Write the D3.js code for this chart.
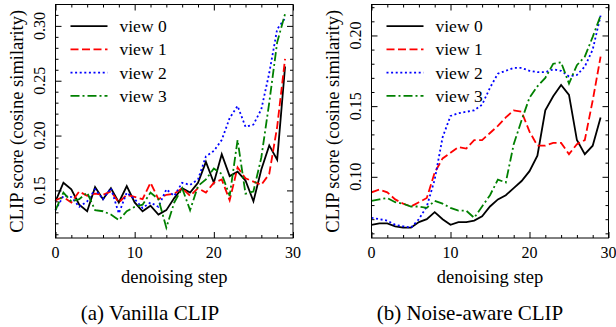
<!DOCTYPE html>
<html>
<head>
<meta charset="utf-8">
<script src="https://cdn.jsdelivr.net/npm/d3@7"></script>
<style>
  body { margin: 0; background: #fff; }
  svg text { font-family: "Liberation Serif", "Times New Roman", serif; fill: #000; }
</style>
</head>
<body>
<svg id="chart" width="616" height="327"></svg>
<script>
// denoising steps (x values)
const steps = [0,1,2,3,4,5,6,7,8,9,10,11,12,13,14,15,16,17,18,19,20,21,22,23,24,25,26,27,28,29]
const viewNames = ['view 0', 'view 1', 'view 2', 'view 3']

// (a) vanilla CLIP
const vanillaView0 = [0.140,0.157,0.151,0.137,0.131,0.153,0.142,0.152,0.139,0.154,0.139,0.131,0.136,0.128,0.132,0.143,0.152,0.148,0.157,0.176,0.157,0.183,0.163,0.167,0.159,0.140,0.169,0.191,0.178,0.263]
const vanillaView1 = [0.141,0.144,0.139,0.149,0.145,0.147,0.146,0.149,0.139,0.146,0.144,0.142,0.157,0.142,0.146,0.147,0.152,0.145,0.152,0.148,0.157,0.160,0.141,0.171,0.161,0.158,0.155,0.165,0.208,0.270]
const vanillaView2 = [0.132,0.145,0.144,0.135,0.140,0.151,0.142,0.152,0.129,0.148,0.142,0.134,0.139,0.135,0.151,0.145,0.157,0.155,0.160,0.181,0.186,0.196,0.216,0.227,0.208,0.210,0.224,0.257,0.297,0.307]
const vanillaView3 = [0.132,0.148,0.140,0.142,0.148,0.132,0.131,0.128,0.123,0.131,0.135,0.137,0.148,0.142,0.116,0.139,0.152,0.132,0.154,0.160,0.170,0.165,0.145,0.196,0.147,0.149,0.180,0.230,0.285,0.311]

// (b) noise-aware CLIP
const noiseView0 = [0.066,0.067,0.067,0.065,0.064,0.064,0.068,0.070,0.075,0.070,0.066,0.068,0.068,0.069,0.072,0.079,0.084,0.087,0.092,0.097,0.104,0.115,0.147,0.157,0.165,0.158,0.126,0.116,0.122,0.142]
const noiseView1 = [0.089,0.091,0.089,0.084,0.081,0.079,0.082,0.085,0.103,0.113,0.117,0.121,0.120,0.126,0.126,0.131,0.136,0.142,0.147,0.146,0.132,0.122,0.122,0.124,0.124,0.116,0.123,0.126,0.154,0.185]
const noiseView2 = [0.071,0.070,0.069,0.066,0.065,0.064,0.070,0.079,0.098,0.128,0.143,0.145,0.146,0.147,0.151,0.163,0.173,0.175,0.177,0.177,0.175,0.174,0.174,0.176,0.175,0.171,0.172,0.178,0.190,0.214]
const noiseView3 = [0.083,0.084,0.085,0.082,0.081,0.079,0.079,0.078,0.083,0.081,0.078,0.076,0.076,0.071,0.079,0.087,0.098,0.096,0.123,0.140,0.156,0.164,0.170,0.180,0.181,0.166,0.179,0.185,0.199,0.214]

// axis ticks
const xMajorTicks = [0, 10, 20, 30]
const xMinorTicks = [2,4,6,8,12,14,16,18,22,24,26,28]
const vanillaYTicks = [0.15, 0.20, 0.25, 0.30]
const vanillaYMinor = [0.11,0.12,0.13,0.14,0.16,0.17,0.18,0.19,0.21,0.22,0.23,0.24,0.26,0.27,0.28,0.29,0.31]
const noiseYTicks = [0.10, 0.15, 0.20]
const noiseYMinor = [0.06,0.07,0.08,0.09,0.11,0.12,0.13,0.14,0.16,0.17,0.18,0.19,0.21,0.22]

// line styles per view
const lineStyles = [
    { color: '#000000', dash: null },
    { color: '#ff0000', dash: '8,3.5' },
    { color: '#0000ff', dash: '2,2.6' },
    { color: '#008000', dash: '9,3,2,3' },
]

const svg = d3.select('#chart')

function drawPanel(opts) {
    const { left, right, top, bottom } = opts
    const x = d3.scaleLinear().domain([0, 30]).range([left, right])
    const y = d3.scaleLinear().domain(opts.yDomain).range([bottom, top])
    const g = svg.append('g')

    // ticks on all four sides, pointing inward
    const tickAxis = (axis, transform, ticks, size) => {
        g.append('g')
            .attr('transform', transform)
            .call(axis.tickValues(ticks).tickSizeInner(size).tickSizeOuter(0).tickFormat(''))
            .call(a => a.select('.domain').remove())
            .call(a => a.selectAll('line').attr('stroke', '#000').attr('stroke-width', 1))
    }
    tickAxis(d3.axisBottom(x), `translate(0,${bottom})`, xMajorTicks, -6)
    tickAxis(d3.axisBottom(x), `translate(0,${bottom})`, xMinorTicks, -3)
    tickAxis(d3.axisTop(x), `translate(0,${top})`, xMajorTicks, -6)
    tickAxis(d3.axisTop(x), `translate(0,${top})`, xMinorTicks, -3)
    tickAxis(d3.axisLeft(y), `translate(${left},0)`, opts.yTicks, -6)
    tickAxis(d3.axisLeft(y), `translate(${left},0)`, opts.yMinor, -3)
    tickAxis(d3.axisRight(y), `translate(${right},0)`, opts.yTicks, -6)
    tickAxis(d3.axisRight(y), `translate(${right},0)`, opts.yMinor, -3)

    // x tick labels
    g.selectAll('.xlab')
        .data(xMajorTicks)
        .join('text')
        .attr('x', d => x(d))
        .attr('y', bottom + 19.5)
        .attr('text-anchor', 'middle')
        .attr('font-size', '16px')
        .text(d => d)

    // y tick labels, rotated
    g.selectAll('.ylab')
        .data(opts.yTicks)
        .join('text')
        .attr('transform', d => `translate(${left - 11},${y(d)}) rotate(-90)`)
        .attr('text-anchor', 'middle')
        .attr('font-size', '16px')
        .text(d => d3.format('.2f')(d))

    g.append('text')
        .attr('transform', `translate(${left - 32.5},${(top + bottom) / 2}) rotate(-90)`)
        .attr('text-anchor', 'middle')
        .attr('font-size', '18.5px')
        .text('CLIP score (cosine similarity)')

    g.append('text')
        .attr('x', (left + right) / 2)
        .attr('y', bottom + 44.5)
        .attr('text-anchor', 'middle')
        .attr('font-size', '18.5px')
        .text('denoising step')

    g.append('text')
        .attr('x', opts.captionX)
        .attr('y', 320)
        .attr('text-anchor', 'middle')
        .attr('font-size', '21px')
        .text(opts.caption)

    // series
    const line = d3.line()
        .x((d, i) => x(steps[i]))
        .y(d => y(d))
    opts.series.forEach((vals, k) => {
        g.append('path')
            .datum(vals)
            .attr('d', line)
            .attr('fill', 'none')
            .attr('stroke', lineStyles[k].color)
            .attr('stroke-width', 1.8)
            .attr('stroke-dasharray', lineStyles[k].dash)
    })

    // legend
    const leg = g.append('g')
    viewNames.forEach((name, k) => {
        const ly = top + 21.7 + k * 23.2
        leg.append('line')
            .attr('x1', left + 15).attr('x2', left + 52)
            .attr('y1', ly).attr('y2', ly)
            .attr('stroke', lineStyles[k].color)
            .attr('stroke-width', 1.8)
            .attr('stroke-dasharray', lineStyles[k].dash)
        leg.append('text')
            .attr('x', left + 64)
            .attr('y', ly + 6)
            .attr('font-size', '17.5px')
            .text(name)
    })

    // frame
    g.append('rect')
        .attr('x', left).attr('y', top)
        .attr('width', right - left).attr('height', bottom - top)
        .attr('fill', 'none')
        .attr('stroke', '#000')
        .attr('stroke-width', 1)
}

drawPanel({
    left: 55.5, right: 293, top: 4.5, bottom: 238,
    yDomain: [0.1066, 0.3195],
    yTicks: vanillaYTicks, yMinor: vanillaYMinor,
    series: [vanillaView0, vanillaView1, vanillaView2, vanillaView3],
    caption: '(a) Vanilla CLIP', captionX: 150,
})

drawPanel({
    left: 371.5, right: 608.5, top: 4.5, bottom: 238,
    yDomain: [0.0567, 0.2219],
    yTicks: noiseYTicks, yMinor: noiseYMinor,
    series: [noiseView0, noiseView1, noiseView2, noiseView3],
    caption: '(b) Noise-aware CLIP', captionX: 470,
})
</script>
</body>
</html>
